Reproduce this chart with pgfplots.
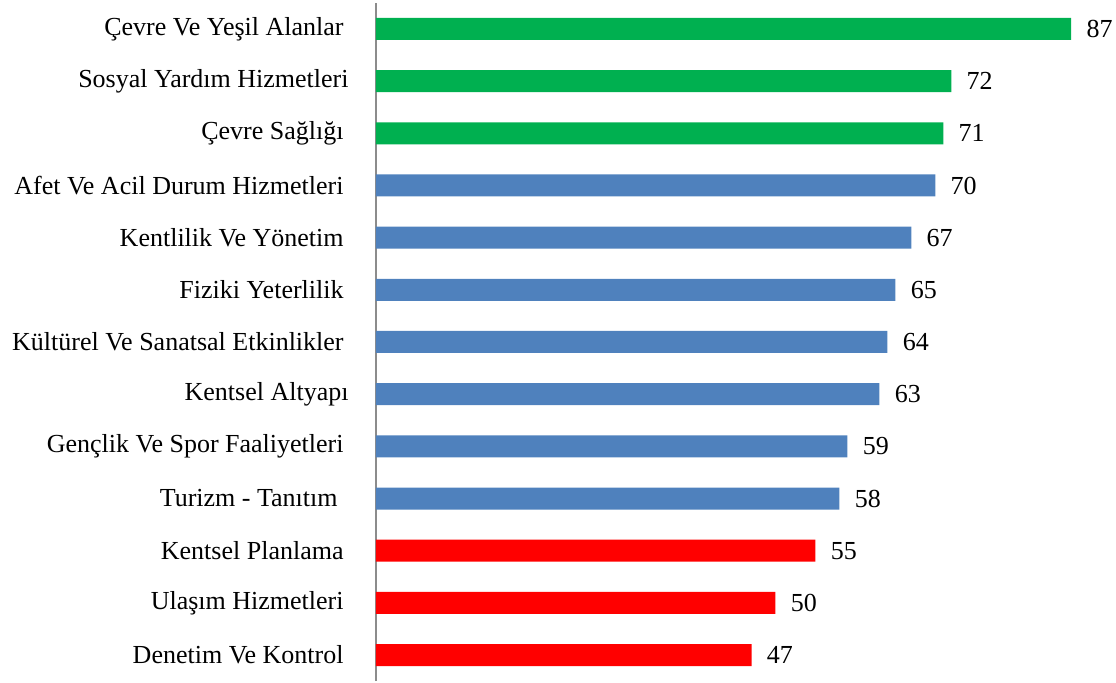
\documentclass[border=0pt]{standalone}
\usepackage{pgfplots}
\pgfplotsset{compat=1.18}
\usepackage{fontspec}
\setmainfont{Liberation Serif}
\definecolor{cgreen}{HTML}{00B050}
\definecolor{cblue}{HTML}{4F81BD}
\definecolor{cred}{HTML}{FF0000}
\begin{document}
\begin{tikzpicture}
\begin{axis}[
  at={(0pt,0pt)}, anchor=south west,
  x=3.995pt, y=26.085pt,
  xmin=0, xmax=92, ymin=-0.5, ymax=12.5,
  xbar, bar width=11pt, bar shift=0pt,
  axis x line=none, axis y line*=left,
  y axis line style={draw=gray!90!white, line width=1pt, -},
  ytick={0,...,12},
  yticklabels={Denetim Ve Kontrol\hspace*{2.5pt},Ulaşım Hizmetleri\hspace*{2.5pt},Kentsel Planlama\hspace*{2.5pt},Turizm - Tanıtım\hspace*{5.5pt},Gençlik Ve Spor Faaliyetleri\hspace*{2.5pt},Kentsel Altyapı,Kültürel Ve Sanatsal Etkinlikler\hspace*{2.5pt},Fiziki Yeterlilik\hspace*{2.5pt},Kentlilik Ve Yönetim\hspace*{2.5pt},Afet Ve Acil Durum Hizmetleri\hspace*{2.5pt},Çevre Sağlığı\hspace*{2.5pt},Sosyal Yardım Hizmetleri,Çevre Ve Yeşil Alanlar\hspace*{2.5pt}},
  major tick length=0pt, tick style={draw=none},
  yticklabel style={font=\fontsize{13}{15}\selectfont, anchor=east, inner sep=0pt, xshift=-13.5pt},
  /pgf/number format/assume math mode=true,
  nodes near coords,
  point meta=x,
  nodes near coords style={font=\fontsize{13}{15}\selectfont, anchor=west, inner sep=0pt, xshift=7.5pt, text=black, /pgf/number format/assume math mode=true},
  clip=false,
]
\addplot[fill=cred, draw=none] coordinates {(47,0) (50,1) (55,2)};
\addplot[fill=cblue, draw=none] coordinates {(58,3) (59,4) (63,5) (64,6) (65,7) (67,8) (70,9)};
\addplot[fill=cgreen, draw=none] coordinates {(71,10) (72,11) (87,12)};
\end{axis}
\pgfresetboundingbox
\path (-188pt,-0.45pt) rectangle (370pt,340.55pt);
\end{tikzpicture}
\end{document}
